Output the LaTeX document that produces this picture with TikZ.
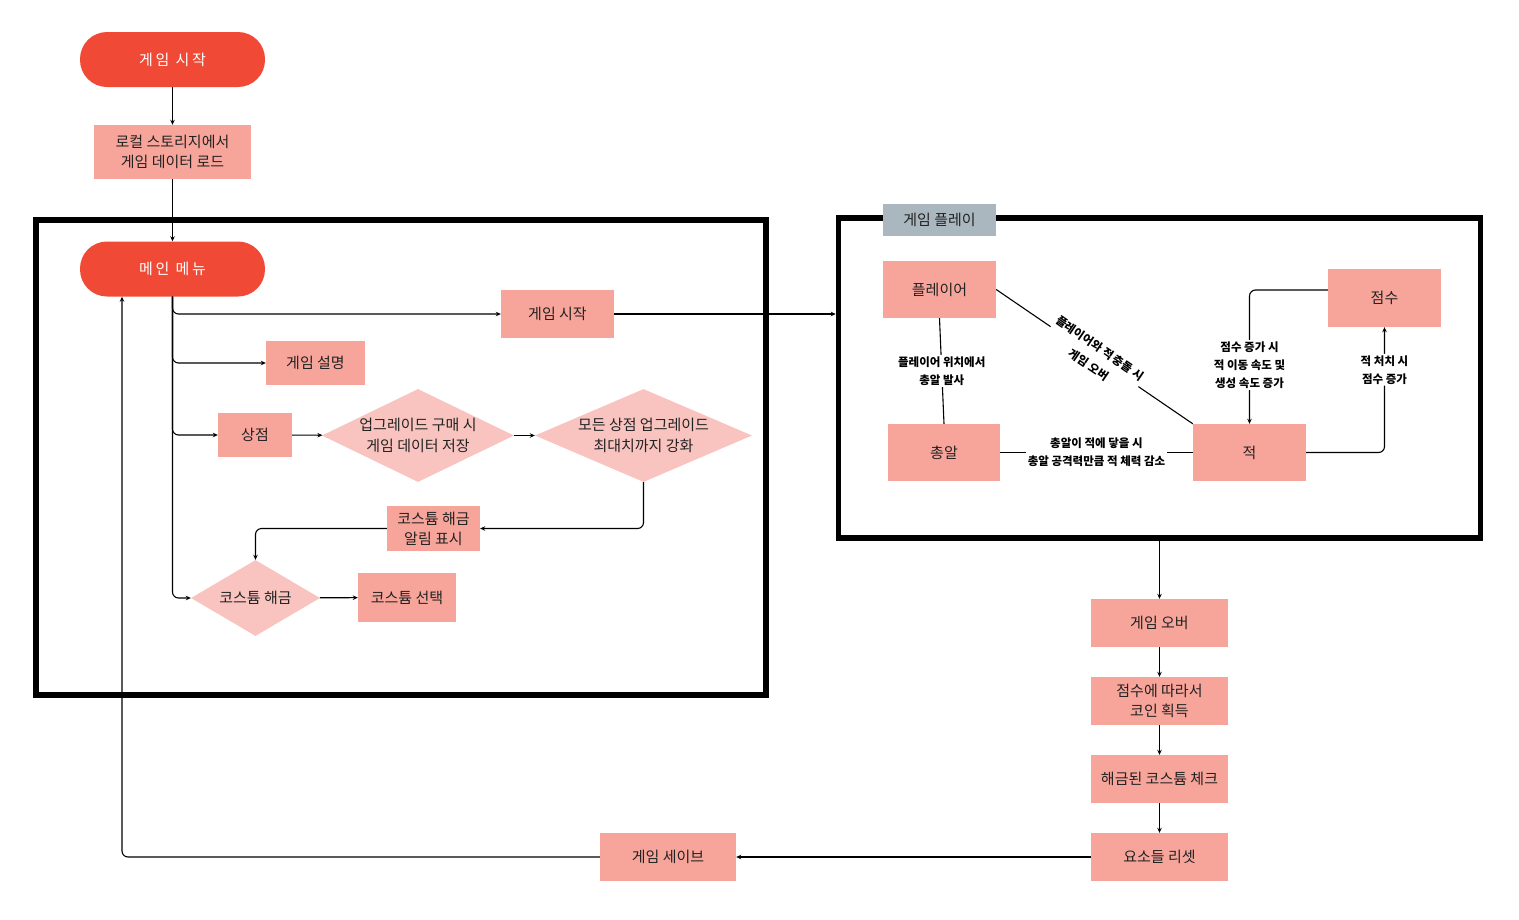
\documentclass[tikz,border=0pt]{standalone}
\usepackage{fontspec}
\setmainfont{Noto Sans CJK KR}
\newfontfamily\termfont[LetterSpace=18]{Noto Sans CJK KR}
\usetikzlibrary{shapes.geometric,arrows.meta}
\definecolor{termred}{HTML}{F04A36}
\definecolor{salmon}{HTML}{F7A59B}
\definecolor{pinkd}{HTML}{F9C4BF}
\definecolor{graylab}{HTML}{AAB7BF}
\definecolor{txt}{HTML}{222222}
\tikzset{
  term/.style={rectangle, rounded corners=27pt, fill=termred, text=white,
    minimum width=185pt, minimum height=55pt, inner sep=0pt,
    font=\termfont\fontsize{15}{18}\selectfont},
  box/.style={rectangle, fill=salmon, text=txt, align=center, inner sep=0pt,
    font=\fontsize{15}{20}\selectfont},
  dia/.style={diamond, fill=pinkd, inner sep=0pt},
  dtext/.style={align=center, text=txt, font=\fontsize{15}{21}\selectfont},
  lab/.style={font=\bfseries\fontsize{11.5}{18}\selectfont, align=center,
    fill=white, inner sep=1.5pt, text=black},
  arr/.style={-{Stealth[length=5pt,width=4.5pt]}, line width=1.1pt, rounded corners=6pt},
  ln/.style={line width=1.1pt},
  frame/.style={draw=black, line width=5.5pt, inner sep=0pt}
}
\begin{document}
\begin{tikzpicture}[x=1pt,y=-1pt]
\useasboundingbox (0,0) rectangle (1519,919);
% frames
\node[frame, minimum width=730pt, minimum height=475pt] (lbox) at (401,457.5) {};
\node[frame, minimum width=642pt, minimum height=320pt] (rbox) at (1159.5,378) {};
% top / left
\node[term] (start) at (172.5,59.5) {게임 시작};
\node[box, minimum width=157pt, minimum height=54pt] (load) at (172.5,152) {로컬 스토리지에서\\게임 데이터 로드};
\node[term] (menu) at (172.5,269) {메인 메뉴};
\node[box, minimum width=113pt, minimum height=48pt] (gs) at (557.5,314) {게임 시작};
\node[box, minimum width=99pt, minimum height=44pt] (desc) at (315.5,363) {게임 설명};
\node[box, minimum width=74pt, minimum height=44pt] (shop) at (255,435) {상점};
\node[dia, minimum width=192pt, minimum height=93pt,
  label={[dtext]center:{업그레이드 구매 시\\게임 데이터 저장}}] (d1) at (418,435.5) {};
\node[dia, minimum width=217pt, minimum height=93pt,
  label={[dtext]center:{모든 상점 업그레이드\\최대치까지 강화}}] (d2) at (643.5,435.5) {};
\node[box, minimum width=93pt, minimum height=45pt] (notice) at (433.5,528.5) {코스튬 해금\\알림 표시};
\node[dia, minimum width=129pt, minimum height=76pt,
  label={[dtext]center:{코스튬 해금}}] (d3) at (255.5,598) {};
\node[box, minimum width=98pt, minimum height=49pt] (select) at (407,597.5) {코스튬 선택};
% right box
\node[box, fill=graylab, minimum width=113pt, minimum height=32pt] (playlab) at (939.5,220) {게임 플레이};
\node[box, minimum width=113pt, minimum height=57pt] (player) at (939.5,289.5) {플레이어};
\node[box, minimum width=112pt, minimum height=57pt] (bullet) at (944,452.5) {총알};
\node[box, minimum width=113pt, minimum height=57pt] (enemy) at (1249.5,452.5) {적};
\node[box, minimum width=113pt, minimum height=58pt] (score) at (1384.5,298) {점수};
% bottom right chain
\node[box, minimum width=137pt, minimum height=48pt] (over) at (1159.5,623) {게임 오버};
\node[box, minimum width=137pt, minimum height=48pt] (coin) at (1159.5,701) {점수에 따라서\\코인 획득};
\node[box, minimum width=137pt, minimum height=48pt] (check) at (1159.5,779) {해금된 코스튬 체크};
\node[box, minimum width=137pt, minimum height=48pt] (reset) at (1159.5,857) {요소들 리셋};
\node[box, minimum width=136pt, minimum height=48pt] (save) at (668,857) {게임 세이브};
\coordinate (mret) at ([xshift=-50.5pt]menu.south);
% connectors
\draw[arr] (start) -- (load);
\draw[arr] (load) -- (menu);
\draw[arr] (menu.south) |- (gs.west);
\draw[arr] (menu.south) |- (desc.west);
\draw[arr] (menu.south) |- (shop.west);
\draw[arr] (menu.south) |- (d3.west);
\draw[arr] (shop) -- (d1);
\draw[arr] (d1) -- (d2);
\draw[arr] (d2.south) |- (notice.east);
\draw[arr] (notice.west) -| (d3.north);
\draw[arr] (d3) -- (select);
\draw[arr] (gs.east) -- (gs.east -| rbox.west);
\draw[arr] (rbox.south) -- (over.north);
\draw[arr] (over) -- (coin);
\draw[arr] (coin) -- (check);
\draw[arr] (check) -- (reset);
\draw[arr] (reset) -- (save);
\draw[arr] (save.west) -| (mret);
% right box connectors
\draw[ln] (player.south) -- node[lab] {플레이어 위치에서\\총알 발사} (bullet.north);
\draw[ln] (player.east) -- node[lab, sloped, font=\bfseries\fontsize{11.5}{20}\selectfont] {플레이어와 적 충돌 시\\게임 오버} (enemy.north west);
\draw[ln] (bullet.east) -- node[lab] {총알이 적에 닿을 시\\총알 공격력만큼 적 체력 감소} (enemy.west);
\draw[arr] ([yshift=8pt]score.west) -| node[lab, pos=0.78] {점수 증가 시\\적 이동 속도 및\\생성 속도 증가} (enemy.north);
\draw[arr] (enemy.east) -| node[lab, pos=0.83] {적 처치 시\\점수 증가} (score.south);
\end{tikzpicture}
\end{document}
